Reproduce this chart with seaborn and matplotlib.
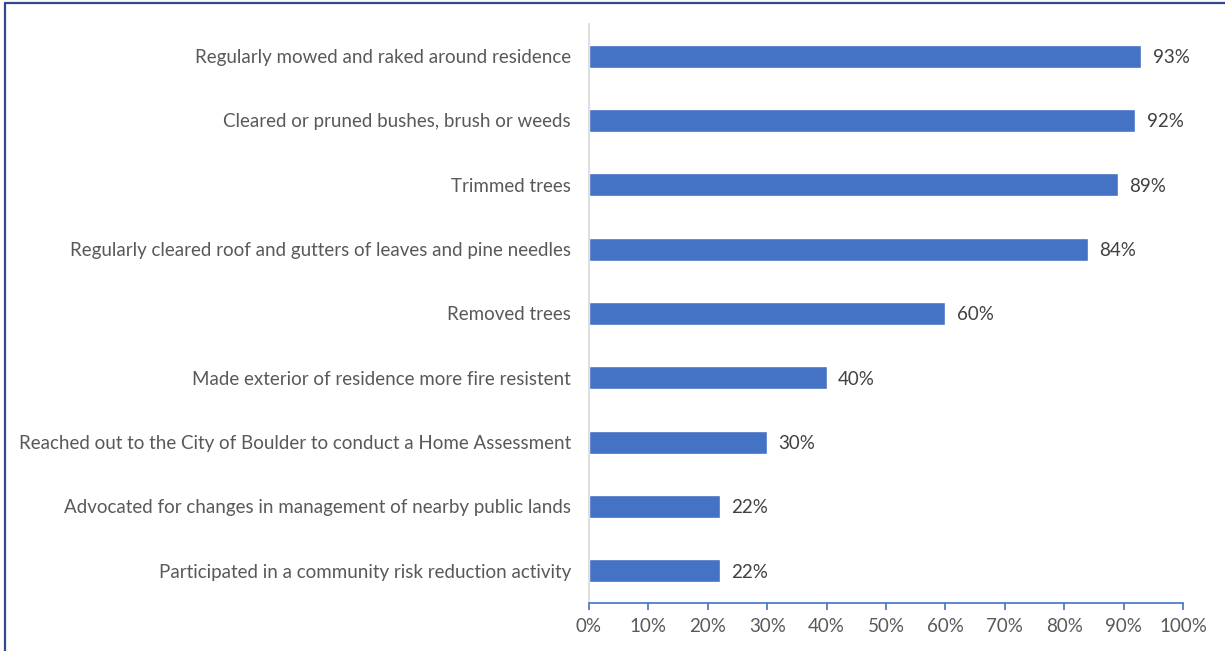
import matplotlib
matplotlib.use("Agg")
import matplotlib.pyplot as plt
import matplotlib.lines as mlines
import seaborn as sns
import pandas as pd

# Wildfire mitigation actions taken by residents (share of respondents)
actions = [
    "Regularly mowed and raked around residence",
    "Cleared or pruned bushes, brush or weeds",
    "Trimmed trees",
    "Regularly cleared roof and gutters of leaves and pine needles",
    "Removed trees",
    "Made exterior of residence more fire resistent",
    "Reached out to the City of Boulder to conduct a Home Assessment",
    "Advocated for changes in management of nearby public lands",
    "Participated in a community risk reduction activity",
]
shares = [93, 92, 89, 84, 60, 40, 30, 22, 22]
tick_values = [0, 10, 20, 30, 40, 50, 60, 70, 80, 90, 100]
tick_labels = [f"{v}%" for v in tick_values]

df = pd.DataFrame({"action": actions, "share": shares})

sns.set_theme(style="white")
plt.rcParams["font.family"] = ["Lato", "DejaVu Sans"]

BAR = "#4472C4"
TEXT = "#595959"
FS = 13.5

fig = plt.figure(figsize=(12.25, 6.51), dpi=100)
ax = fig.add_axes([589 / 1225, 1 - 603 / 651, (1183 - 589) / 1225, (603 - 24) / 651])

sns.barplot(data=df, x="share", y="action", color=BAR, width=0.36,
            saturation=1, ax=ax, orient="h")

ax.set_xlim(0, 100)
ax.set_xticks(tick_values)
ax.set_xticklabels(tick_labels)
ax.set_xlabel("")
ax.set_ylabel("")

for i, v in enumerate(shares):
    ax.annotate(f"{v}%", xy=(v, i), xytext=(8, -1), textcoords="offset points",
                va="center", ha="left", fontsize=FS, color="#404040")

for s in ["top", "right"]:
    ax.spines[s].set_visible(False)
ax.spines["left"].set_color("#D9D9D9")
ax.spines["left"].set_linewidth(1.2)
ax.spines["bottom"].set_color(BAR)
ax.spines["bottom"].set_linewidth(1.2)

ax.tick_params(axis="x", direction="out", length=5, width=1.2, color=BAR,
               labelsize=FS, labelcolor=TEXT, pad=6, bottom=True)
ax.tick_params(axis="y", length=0, labelsize=FS, labelcolor=TEXT, pad=13)

# Outer frame (left and top edges)
frame_color = "#34478F"
fig.add_artist(mlines.Line2D([4.5 / 1225, 4.5 / 1225], [0, 1 - 3 / 651],
                             transform=fig.transFigure, color=frame_color, lw=1.6))
fig.add_artist(mlines.Line2D([4.5 / 1225, 1], [1 - 3 / 651, 1 - 3 / 651],
                             transform=fig.transFigure, color=frame_color, lw=1.6))

fig.savefig("out.png", dpi=100)
